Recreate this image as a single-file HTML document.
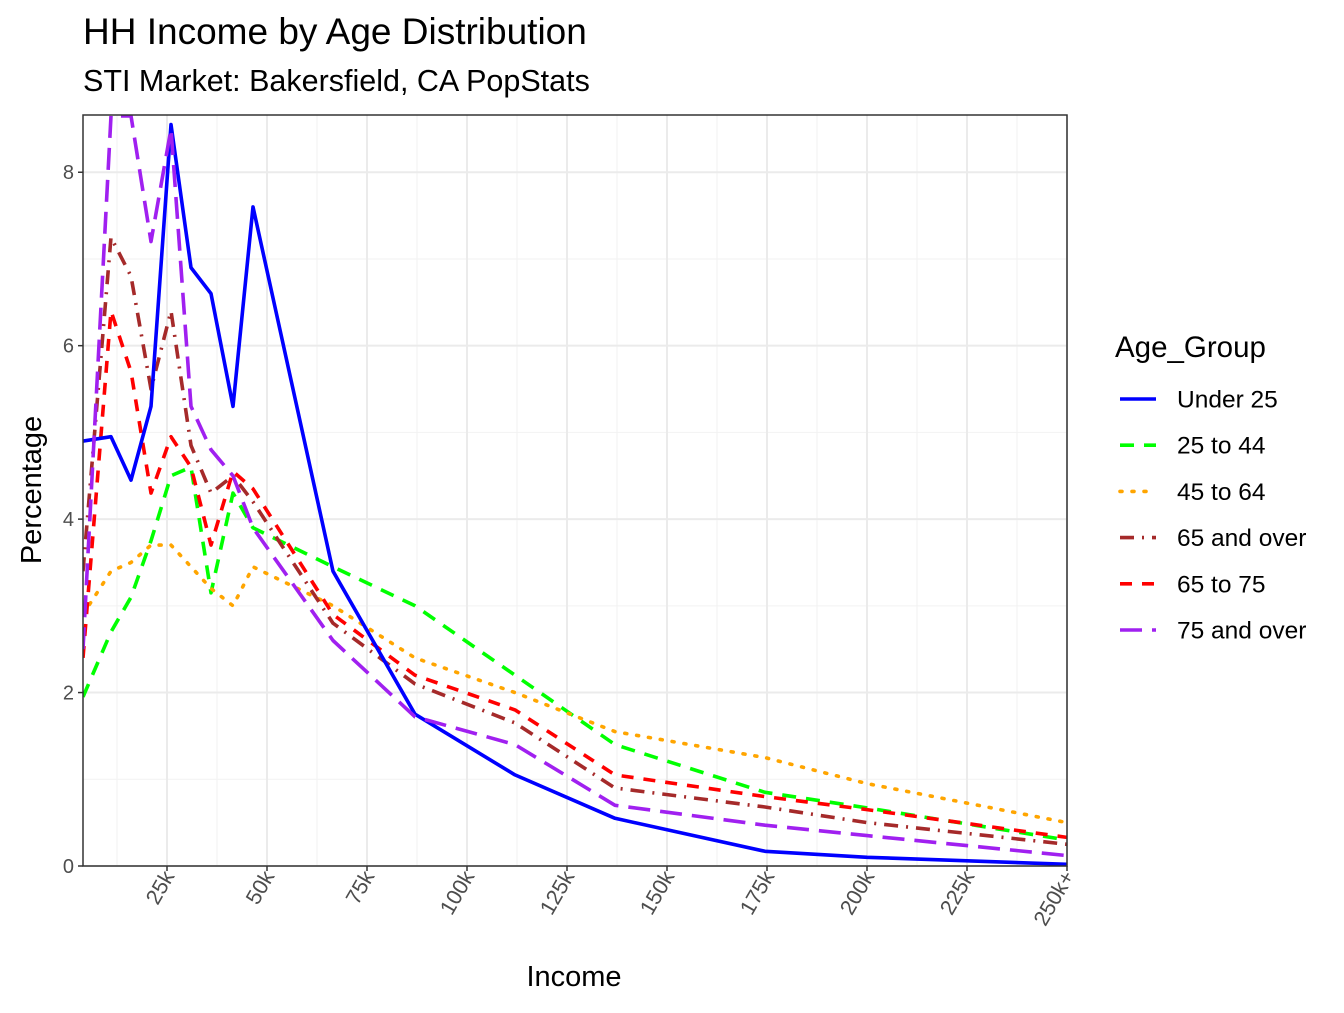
<!DOCTYPE html>
<html><head><meta charset="utf-8"><style>
body{margin:0;background:#fff;font-family:"Liberation Sans",Arial,sans-serif}
</style></head><body>
<svg id="chart" width="1344" height="1008" xmlns="http://www.w3.org/2000/svg" font-family="Liberation Sans, Arial, sans-serif">
<text x="83" y="44" font-size="37" fill="#000">HH Income by Age Distribution</text>
<text x="83" y="91" font-size="30.5" fill="#000">STI Market: Bakersfield, CA PopStats</text>
<g id="grid"></g>
<g id="series"></g>
<rect x="83" y="115" width="984" height="751" fill="none" stroke="#333" stroke-width="1.5"/>
<g id="axes"></g>
<text x="574" y="986" font-size="29" text-anchor="middle">Income</text>
<text transform="translate(41,490) rotate(-90)" font-size="29" text-anchor="middle">Percentage</text>
<text x="1115" y="357" font-size="29.5">Age_Group</text>
<g id="legend"></g>
</svg>
<script>
const incomeK=[4,11,16,21,26,31,36,41.5,46.5,66.5,87,112,137,174.5,200,250];
const under25=[4.9,4.95,4.45,5.3,8.55,6.9,6.6,5.3,7.6,3.4,1.75,1.05,0.55,0.17,0.1,0.02];
const age25to44=[1.95,2.7,3.1,3.75,4.5,4.6,3.15,4.3,3.9,3.45,3.0,2.2,1.4,0.85,0.67,0.3];
const age45to64=[2.9,3.4,3.5,3.7,3.7,3.45,3.2,3.0,3.45,3.0,2.4,2.0,1.55,1.25,0.95,0.5];
const age65over=[3.4,7.25,6.8,5.5,6.4,4.85,4.3,4.5,4.2,2.8,2.1,1.65,0.9,0.68,0.5,0.25];
const age65to75=[2.4,6.4,5.7,4.3,4.95,4.6,3.7,4.55,4.35,2.9,2.2,1.8,1.05,0.8,0.65,0.33];
const age75over=[2.5,8.65,8.65,7.2,8.5,5.3,4.8,4.5,3.9,2.6,1.72,1.4,0.7,0.47,0.35,0.12];
const seriesNames=["Under 25","25 to 44","45 to 64","65 and over","65 to 75","75 and over"];
const xTicks=[25,50,75,100,125,150,175,200,225,250];
const xTickLabels=["25k","50k","75k","100k","125k","150k","175k","200k","225k","250k+"];
const yTicks=[0,2,4,6,8];

const NS="http://www.w3.org/2000/svg";
const X0=83,X1=1067,Y0=866,Y1=115;
const xMin=4,xMax=250,yMin=0,yMax=8.66;
const xs=v=>X0+(v-xMin)/(xMax-xMin)*(X1-X0);
const ys=v=>Y0-(v-yMin)/(yMax-yMin)*(Y0-Y1);
function mk(tag,attrs,parent){const e=document.createElementNS(NS,tag);for(const k in attrs)e.setAttribute(k,attrs[k]);parent.appendChild(e);return e;}
const grid=document.getElementById('grid'),axes=document.getElementById('axes'),ser=document.getElementById('series'),leg=document.getElementById('legend');
mk('rect',{x:X0,y:Y1,width:X1-X0,height:Y0-Y1,fill:'#fff'},grid);
for(let v=1;v<9;v+=2){const l=mk('line',{x1:X0,x2:X1,y1:ys(v),y2:ys(v),stroke:'#f2f2f2','stroke-width':1},grid);

}
for(let v=12.5;v<250;v+=25){const l=mk('line',{x1:xs(v),x2:xs(v),y1:Y1,y2:Y0,stroke:'#f2f2f2','stroke-width':1},grid);

}
yTicks.forEach(v=>{const l=mk('line',{x1:X0,x2:X1,y1:ys(v),y2:ys(v),stroke:'#ebebeb','stroke-width':2},grid);


mk('line',{x1:X0-5,x2:X0,y1:ys(v),y2:ys(v),stroke:'#333','stroke-width':1.5},axes);
const t=mk('text',{x:X0-9,y:ys(v)+7,'font-size':20,fill:'#4d4d4d','text-anchor':'end'},axes);t.textContent=v;

});
xTicks.forEach((v,i)=>{const l=mk('line',{x1:xs(v),x2:xs(v),y1:Y1,y2:Y0,stroke:'#ebebeb','stroke-width':2},grid);


mk('line',{x1:xs(v),x2:xs(v),y1:Y0,y2:Y0+5,stroke:'#333','stroke-width':1.5},axes);
const t=mk('text',{transform:`translate(${xs(v)+8},${Y0+10}) rotate(-60)`,'font-size':21.5,fill:'#4d4d4d','text-anchor':'end'},axes);t.textContent=xTickLabels[i];

});
const data=[under25,age25to44,age45to64,age65over,age65to75,age75over];
const colors=['#0000ff','#00ff00','#ffa500','#a52a2a','#ff0000','#a020f0'];
const dashes=['none','14 10','2 10','14 8 2 8','12 10','22 10'];
const caps=['butt','butt','round','butt','butt','butt'];
const order=[1,2,3,4,0,5];
order.forEach(i=>{const d=data[i].map((v,j)=>(j?'L':'M')+xs(incomeK[j]).toFixed(1)+','+ys(v).toFixed(1)).join('');
const p=mk('path',{d:d,fill:'none',stroke:colors[i],'stroke-width':3.6,'stroke-dasharray':dashes[i],'stroke-linecap':caps[i],'stroke-linejoin':'round','clip-path':'url(#clip)'},ser);

});
const defs=mk('defs',{},document.getElementById('chart'));const cp=mk('clipPath',{id:'clip'},defs);mk('rect',{x:X0,y:Y1,width:X1-X0,height:Y0-Y1},cp);
seriesNames.forEach((n,i)=>{const y=399+i*46.2;const g=mk('g',{},leg);


mk('line',{x1:1120,x2:1156,y1:y,y2:y,stroke:colors[i],'stroke-width':3.6,'stroke-dasharray':dashes[i],'stroke-linecap':caps[i]},g);
const t=mk('text',{x:1177,y:y+8.5,'font-size':24.5,fill:'#000'},g);t.textContent=n;});
</script>
</body></html>
